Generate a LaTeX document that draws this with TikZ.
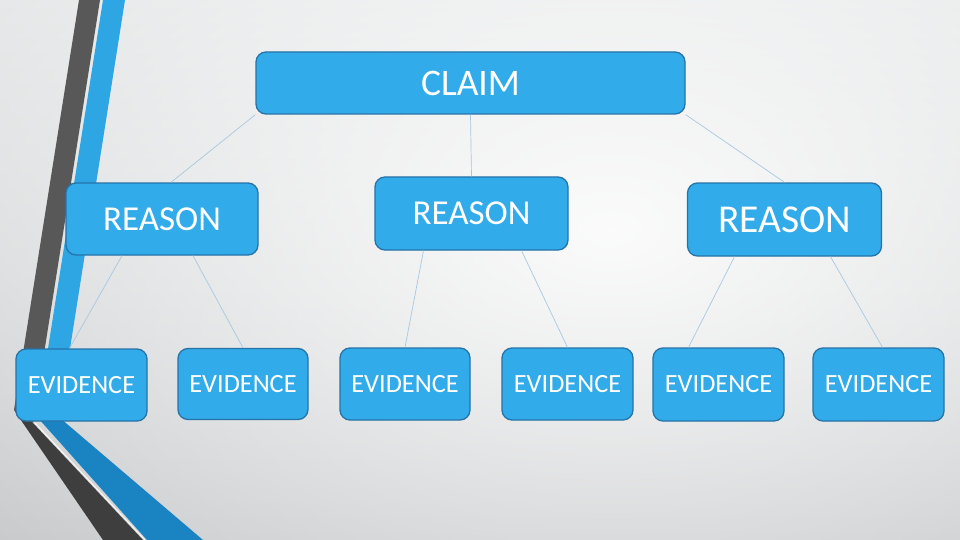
\documentclass[tikz,border=0pt]{standalone}
\usepackage{fontspec}
\setmainfont{Carlito}
\usetikzlibrary{fadings}
\definecolor{bgtop}{HTML}{DDDFE0}
\definecolor{bgbot}{HTML}{B9BBBD}
\definecolor{darkband}{HTML}{585858}
\definecolor{darkbandlow}{HTML}{3E3E3E}
\definecolor{blueband}{HTML}{2EA6E4}
\definecolor{bluebandlow}{HTML}{1A84C3}
\definecolor{boxfill}{HTML}{31ABE9}
\definecolor{boxline}{HTML}{2673A8}
\definecolor{linkcol}{HTML}{A9C8DF}
\tikzfading[name=glowfade, inner color=transparent!8, outer color=transparent!100]
\tikzset{
  box/.style={draw=boxline, line width=1.3pt, fill=boxfill, rounded corners=10pt,
    inner sep=0pt, text=white, align=center},
  claimbox/.style={box, font=\fontsize{37.5}{42}\selectfont},
  reasonbox/.style={box, font=\fontsize{35}{40}\selectfont},
  bigreasonbox/.style={box, font=\fontsize{39.5}{44}\selectfont},
  evbox/.style={box, font=\fontsize{26.3}{30}\selectfont},
  link/.style={draw=linkcol, line width=0.7pt}
}
\begin{document}
\begin{tikzpicture}[x=1pt,y=-1pt]
\useasboundingbox (0,0) rectangle (960,540);
% background
\shade[top color=bgtop, bottom color=bgbot] (0,0) rectangle (960,540);
\begin{scope}
  \clip (0,0) rectangle (960,540);
  \fill[white, path fading=glowfade] (610,230) ellipse (1050 and 640);
\end{scope}
% left decoration
\fill[darkband] (79,0) -- (100,0) -- (33,423) -- (14,410) -- cycle;
\fill[darkbandlow] (14,410) -- (33,423) -- (143,540) -- (103,540) -- cycle;
\draw[white, line width=0.8pt] (35,423) -- (145,540);
\fill[blueband] (103,0) -- (125,0) -- (69,355) -- (47,355) -- cycle;
\fill[bluebandlow] (38,418) -- (60,418) -- (203,540) -- (147,540) -- cycle;
% nodes
\node[claimbox, minimum width=429pt, minimum height=62pt] (claim) at (470.5,83) {CLAIM};
\node[reasonbox, minimum width=192pt, minimum height=72pt] (r1) at (162,219) {REASON};
\node[reasonbox, minimum width=193pt, minimum height=73pt] (r2) at (471.5,213.5) {REASON};
\node[bigreasonbox, minimum width=194pt, minimum height=73pt] (r3) at (784.5,219.5) {REASON};
\node[evbox, minimum width=131pt, minimum height=72pt] (e1) at (81.5,385) {EVIDENCE};
\node[evbox, minimum width=130pt, minimum height=71pt] (e2) at (243,384) {EVIDENCE};
\node[evbox, minimum width=130pt, minimum height=72pt] (e3) at (405,384) {EVIDENCE};
\node[evbox, minimum width=131pt, minimum height=72pt] (e4) at (567.5,384) {EVIDENCE};
\node[evbox, minimum width=131pt, minimum height=73pt] (e5) at (718.5,384.5) {EVIDENCE};
\node[evbox, minimum width=131pt, minimum height=73pt] (e6) at (878.5,384.5) {EVIDENCE};
% connectors
\draw[link] (claim.south west) -- ([xshift=9pt]r1.north);
\draw[link] (claim.south) -- (r2.north);
\draw[link] (claim.south east) -- (r3.north);
\draw[link] ([xshift=-40pt]r1.south) -- ([xshift=-12pt]e1.north);
\draw[link] ([xshift=31pt]r1.south) -- (e2.north);
\draw[link] ([xshift=-48pt]r2.south) -- (e3.north);
\draw[link] ([xshift=50pt]r2.south) -- (e4.north);
\draw[link] ([xshift=-50pt]r3.south) -- ([xshift=-30pt]e5.north);
\draw[link] ([xshift=46pt]r3.south) -- ([xshift=4pt]e6.north);
\end{tikzpicture}
\end{document}
